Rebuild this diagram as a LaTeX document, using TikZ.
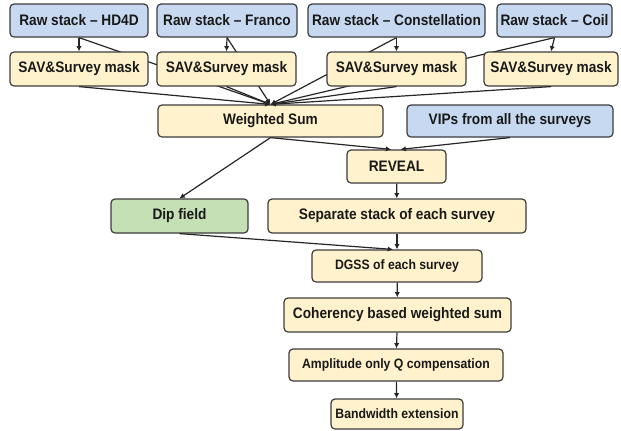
\documentclass[tikz,border=0pt]{standalone}
\usepackage{fontspec}
\setsansfont{Liberation Sans}[FakeStretch=0.9]
\usetikzlibrary{arrows.meta,backgrounds}
\definecolor{rawblue}{RGB}{198,217,241}
\definecolor{stepyellow}{RGB}{255,242,204}
\definecolor{dipgreen}{RGB}{197,224,180}
\definecolor{edgegray}{RGB}{60,60,60}

\begin{document}
\begin{tikzpicture}[x=0.75pt,y=-0.75pt,
	box/.style 2 args={draw=edgegray,line width=0.9pt,rounded corners=3pt,inner sep=0pt,
		minimum width=#1*0.75pt,minimum height=#2*0.75pt,text=black!90,
		font=\sffamily\bfseries\fontsize{11.4}{13}\selectfont},
	small/.style={font=\sffamily\bfseries\fontsize{10.2}{12}\selectfont},
	raw/.style={fill=rawblue},
	stage/.style={fill=stepyellow},
	dip/.style={fill=dipgreen},
	link/.style={draw=black!85,line width=0.9pt,-{Latex[length=4pt,width=4pt]}}]
	\useasboundingbox (0,0) rectangle (621,430);
			% input stacks
			\node[box={138}{33},raw] (rawA) at (79,20.5) {Raw stack -- HD4D};
			\node[box={140}{33},raw] (rawB) at (227,20.5) {Raw stack -- Franco};
			\node[box={177}{33},raw] (rawC) at (396.5,20.5) {Raw stack -- Constellation};
			\node[box={115}{33},raw] (rawD) at (554.5,20.5) {Raw stack -- Coil};
			% masks
			\node[box={138}{34},stage] (savA) at (79,69) {SAV\&Survey mask};
			\node[box={139}{34},stage] (savB) at (226.5,69) {SAV\&Survey mask};
			\node[box={139}{34},stage] (savC) at (396.5,69) {SAV\&Survey mask};
			\node[box={134}{34},stage] (savD) at (551,69) {SAV\&Survey mask};
			% merge
			\node[box={225}{32},stage] (wsum) at (270.5,121) {Weighted Sum};
			\node[box={206}{32},raw] (vips) at (510,121) {VIPs from all the surveys};
			\node[box={99}{33},stage] (reveal) at (396.5,166.5) {REVEAL};
			\node[box={137}{34},dip] (dipf) at (179.5,216) {Dip field};
			\node[box={258}{34},stage] (sep) at (397,216) {Separate stack of each survey};
			\node[box={170}{32},stage,small] (dgss) at (397,266) {DGSS of each survey};
			\node[box={227}{34},stage] (coh) at (397.5,315) {Coherency based weighted sum};
			\node[box={214}{32},stage,small] (amp) at (396,365) {Amplitude only Q compensation};
			\node[box={132}{30},stage,small] (bw) at (397,414) {Bandwidth extension};
			% connectors
			\begin{pgfonlayer}{background}
			\foreach \r in {rawA,rawB,rawC,rawD}
				\draw[link] (\r.south) -- (wsum.north);
			\end{pgfonlayer}
			\draw[link] (rawA.south) -- (savA.north);
			\draw[link] (rawB.south) -- (savB.north);
			\draw[link] (rawC.south) -- (savC.north);
			\draw[link] (rawD.south) -- (savD.north);
			\foreach \s in {savA,savB,savC,savD}
				\draw[link] (\s.south) -- (wsum.north);
			\draw[link] (wsum.south) -- ([xshift=-4pt]reveal.north);
			\draw[link] (vips.south) -- ([xshift=3pt]reveal.north);
			\draw[link] (wsum.south) -- (dipf.north);
			\draw[link] (reveal) -- (sep);
			\draw[link] (sep) -- (dgss);
			\draw[link] (dipf.south) -- ([xshift=-3pt]dgss.north);
			\draw[link] (dgss) -- (coh);
			\draw[link] (coh) -- (amp);
			\draw[link] (amp) -- (bw);
		\end{tikzpicture}
\end{document}
